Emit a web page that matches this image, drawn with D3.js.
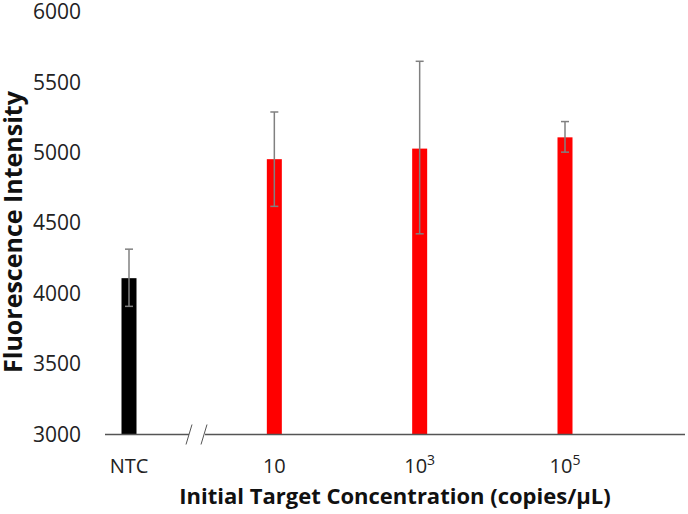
<!DOCTYPE html>
<html lang="en">
<head>
<meta charset="UTF-8">
<title>Fluorescence Intensity</title>
<style>
  body { margin: 0; background: #fff; }
  text { font-family: "Open Sans", "DejaVu Sans", sans-serif; }
</style>
</head>
<body>
<div id="my_dataviz"></div>
<script src="https://d3js.org/d3.v7.min.js"></script>
<script>
// data
var categories = ["NTC", "10", "10^3", "10^5"];
var means = [4110, 4955, 5030, 5110];
var errLow = [3910, 4620, 4425, 5005];
var errHigh = [4316, 5290, 5650, 5222];
var barColors = ["#000000", "#ff0000", "#ff0000", "#ff0000"];
var yTicks = [3000, 3500, 4000, 4500, 5000, 5500, 6000];

var data = categories.map(function (c, i) {
    return { cat: c, v: means[i], lo: errLow[i], hi: errHigh[i], color: barColors[i] };
});

var width = 688, height = 514;
var svg = d3.select("#my_dataviz").append("svg")
    .attr("width", width)
    .attr("height", height);

// scales
var x = d3.scalePoint()
    .domain(categories)
    .range([129, 565]);
var y = d3.scaleLinear()
    .domain([3000, 6000])
    .range([434.5, 12]);

var barW = 15;

// y axis labels only (no line, no ticks)
var yAxis = d3.axisLeft(y).tickValues(yTicks).tickFormat(d3.format("d")).tickSize(0).tickPadding(0);
var gy = svg.append("g")
    .attr("transform", "translate(81,0)")
    .call(yAxis);
gy.select(".domain").remove();
gy.selectAll("text")
    .attr("font-size", 21)
    .attr("fill", "#222")
    .style("font-family", "'Open Sans', sans-serif");

// bars
svg.selectAll(".bar")
    .data(data)
    .join("rect")
    .attr("class", "bar")
    .attr("x", function (d) { return x(d.cat) - barW / 2; })
    .attr("width", barW)
    .attr("y", function (d) { return y(d.v); })
    .attr("height", function (d) { return y(3000) - y(d.v); })
    .attr("fill", function (d) { return d.color; });

// error bars
var eb = svg.selectAll(".err")
    .data(data)
    .join("g")
    .attr("class", "err")
    .attr("stroke", "#808080")
    .attr("stroke-width", 1.5);
eb.append("line")
    .attr("x1", function (d) { return x(d.cat); })
    .attr("x2", function (d) { return x(d.cat); })
    .attr("y1", function (d) { return y(d.lo); })
    .attr("y2", function (d) { return y(d.hi); });
eb.append("line")
    .attr("x1", function (d) { return x(d.cat) - 4; })
    .attr("x2", function (d) { return x(d.cat) + 4; })
    .attr("y1", function (d) { return y(d.hi); })
    .attr("y2", function (d) { return y(d.hi); });
eb.append("line")
    .attr("x1", function (d) { return x(d.cat) - 4; })
    .attr("x2", function (d) { return x(d.cat) + 4; })
    .attr("y1", function (d) { return y(d.lo); })
    .attr("y2", function (d) { return y(d.lo); });

// x axis line with a break
var y0 = y(3000);
var axisG = svg.append("g")
    .attr("stroke", "#555")
    .attr("stroke-width", 1.5)
    .attr("fill", "none");
axisG.append("line").attr("x1", 105).attr("x2", 189).attr("y1", y0).attr("y2", y0);
axisG.append("line").attr("x1", 205).attr("x2", 685).attr("y1", y0).attr("y2", y0);
axisG.append("line").attr("x1", 186).attr("x2", 192).attr("y1", y0 + 10).attr("y2", y0 - 10).attr("stroke-width", 1);
axisG.append("line").attr("x1", 201).attr("x2", 207).attr("y1", y0 + 10).attr("y2", y0 - 10).attr("stroke-width", 1);

// x tick labels (with superscripts)
var xl = svg.selectAll(".xlab")
    .data(categories)
    .join("text")
    .attr("class", "xlab")
    .attr("x", function (d) { return x(d); })
    .attr("y", 473)
    .attr("text-anchor", "middle")
    .attr("font-size", 20)
    .attr("fill", "#222");
xl.each(function (d) {
    var t = d3.select(this);
    var parts = d.split("^");
    t.append("tspan").text(parts[0]);
    if (parts[1]) {
        t.append("tspan")
            .attr("dy", -8)
            .attr("font-size", 14)
            .text(parts[1]);
    }
});

// axis titles
svg.append("text")
    .attr("x", 395)
    .attr("y", 504)
    .attr("text-anchor", "middle")
    .attr("font-size", 22)
    .attr("font-weight", "bold")
    .attr("fill", "#111")
    .text("Initial Target Concentration (copies/µL)");

svg.append("text")
    .attr("transform", "translate(22,232) rotate(-90)")
    .attr("text-anchor", "middle")
    .attr("font-size", 25)
    .attr("font-weight", "bold")
    .attr("fill", "#111")
    .text("Fluorescence Intensity");
</script>
</body>
</html>
